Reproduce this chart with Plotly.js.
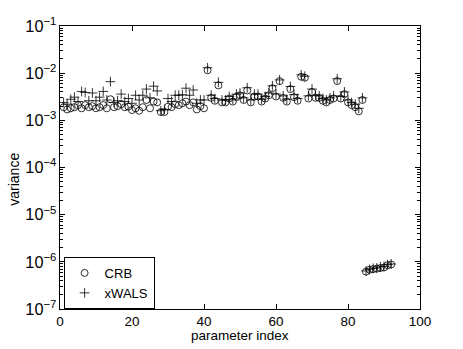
<!DOCTYPE html>
<html>
<head>
<meta charset="utf-8">
<script src="https://cdn.plot.ly/plotly-3.0.1.min.js"></script>
<style>html,body{margin:0;padding:0;background:#fff;}#chart{width:463px;height:349px;}</style>
</head>
<body>
<div id="chart"></div>
<script>
var paramIndex = [];
for (var i = 1; i <= 92; i++) paramIndex.push(i);

var crb = [
  1.9e-3, 1.7e-3, 1.8e-3, 1.9e-3, 2.1e-3, 1.8e-3, 2.1e-3, 1.9e-3, 2.0e-3, 1.8e-3,
  1.9e-3, 2.1e-3, 1.8e-3, 2.8e-3, 1.9e-3, 2.0e-3, 2.2e-3, 1.9e-3, 1.95e-3, 1.65e-3,
  1.8e-3, 1.6e-3, 1.9e-3, 2.7e-3, 1.8e-3, 2.5e-3, 2.4e-3, 1.5e-3, 1.5e-3, 1.95e-3,
  1.9e-3, 2.2e-3, 2.1e-3, 2.3e-3, 2.5e-3, 2.1e-3, 2.4e-3, 1.7e-3, 2.0e-3, 1.8e-3,
  1.15e-2, 3.0e-3, 2.6e-3, 5.5e-3, 2.4e-3, 2.4e-3, 2.9e-3, 2.5e-3, 3.1e-3, 3.4e-3,
  2.7e-3, 4.3e-3, 2.4e-3, 3.2e-3, 3.2e-3, 2.5e-3, 2.9e-3, 3.4e-3, 4.8e-3, 3.2e-3,
  6.8e-3, 3.0e-3, 2.5e-3, 4.6e-3, 3.1e-3, 2.6e-3, 8.4e-3, 8.0e-3, 2.9e-3, 4.0e-3,
  3.0e-3, 3.0e-3, 2.6e-3, 2.4e-3, 2.7e-3, 2.9e-3, 6.8e-3, 2.9e-3, 3.6e-3, 2.4e-3,
  2.1e-3, 1.9e-3, 1.55e-3, 2.7e-3, 6.2e-7, 6.8e-7, 7.0e-7, 7.2e-7, 7.4e-7, 7.6e-7,
  8.5e-7, 8.8e-7
];

var xwals = [
  2.4e-3, 2.2e-3, 2.8e-3, 3.1e-3, 2.5e-3, 4.1e-3, 3.9e-3, 2.6e-3, 3.8e-3, 2.6e-3,
  3.1e-3, 4.1e-3, 2.7e-3, 6.6e-3, 2.4e-3, 2.6e-3, 3.6e-3, 2.5e-3, 2.9e-3, 2.3e-3,
  3.4e-3, 2.7e-3, 3.4e-3, 4.6e-3, 3.0e-3, 5.3e-3, 4.2e-3, 1.6e-3, 1.7e-3, 2.9e-3,
  2.5e-3, 3.4e-3, 3.4e-3, 3.5e-3, 4.8e-3, 3.4e-3, 4.4e-3, 2.3e-3, 2.7e-3, 2.7e-3,
  1.3e-2, 3.4e-3, 2.9e-3, 6.4e-3, 2.7e-3, 2.7e-3, 3.2e-3, 2.8e-3, 3.6e-3, 3.8e-3,
  3.0e-3, 4.9e-3, 2.7e-3, 3.6e-3, 3.6e-3, 2.8e-3, 3.2e-3, 3.8e-3, 5.4e-3, 3.6e-3,
  7.2e-3, 3.3e-3, 2.8e-3, 5.2e-3, 3.5e-3, 2.9e-3, 9.2e-3, 8.6e-3, 3.3e-3, 4.6e-3,
  3.4e-3, 3.3e-3, 2.9e-3, 2.7e-3, 3.0e-3, 3.3e-3, 7.6e-3, 3.2e-3, 4.0e-3, 2.7e-3,
  2.4e-3, 2.2e-3, 1.8e-3, 3.0e-3, 6.4e-7, 6.9e-7, 7.3e-7, 7.4e-7, 7.8e-7, 8.0e-7,
  8.7e-7, 9.0e-7
];

var xTickVals = [0, 20, 40, 60, 80, 100];
var yRangeExp = [-7, -1];

var FONT = 'Liberation Sans, Arial, Helvetica, sans-serif';

var traces = [
  {
    x: paramIndex, y: crb, name: 'CRB', type: 'scatter', mode: 'markers',
    marker: {symbol: 'circle-open', size: 7, color: '#000', line: {color: '#000', width: 0.8}}
  },
  {
    x: paramIndex, y: xwals, name: 'xWALS', type: 'scatter', mode: 'markers',
    marker: {symbol: 'cross-thin-open', size: 7, color: '#000', line: {color: '#000', width: 0.8}}
  }
];

var layout = {
  width: 463, height: 349,
  margin: {l: 60, r: 43, t: 26, b: 40},
  paper_bgcolor: '#fff', plot_bgcolor: '#fff',
  font: {family: FONT, size: 13, color: '#000'},
  showlegend: true,
  legend: {
    x: 0.01, y: 0.0, xanchor: 'left', yanchor: 'bottom',
    bordercolor: '#000', borderwidth: 1, bgcolor: '#fff',
    font: {family: FONT, size: 13, color: '#000'},
    tracegroupgap: 0
  },
  xaxis: {
    range: [0, 100], tickvals: xTickVals, ticktext: xTickVals.map(String),
    ticks: 'inside', ticklen: 5, tickcolor: '#000',
    showline: true, linecolor: '#000', linewidth: 1, mirror: 'allticks',
    showgrid: false, zeroline: false,
    tickfont: {family: FONT, size: 13.5}
  },
  yaxis: {
    type: 'log', range: yRangeExp, dtick: 1, exponentformat: 'power',
    ticks: 'inside', ticklen: 5, tickcolor: '#000',
    showline: true, linecolor: '#000', linewidth: 1, mirror: 'allticks',
    showgrid: false, zeroline: false,
    tickfont: {family: FONT, size: 13},
    minor: {ticks: 'inside', ticklen: 3, tickcolor: '#000', dtick: 'D1', showgrid: false}
  },
  annotations: [
    {text: 'parameter index', xref: 'paper', yref: 'paper', x: 0.5, y: -0.092,
     xanchor: 'center', yanchor: 'middle', showarrow: false,
     font: {family: FONT, size: 13.5, color: '#000'}},
    {text: 'variance', xref: 'paper', yref: 'paper', x: -0.128, y: 0.46,
     xanchor: 'center', yanchor: 'middle', textangle: -90, showarrow: false,
     font: {family: FONT, size: 14, color: '#000'}}
  ]
};

Plotly.newPlot('chart', traces, layout, {displayModeBar: false, staticPlot: true});
</script>
</body>
</html>
